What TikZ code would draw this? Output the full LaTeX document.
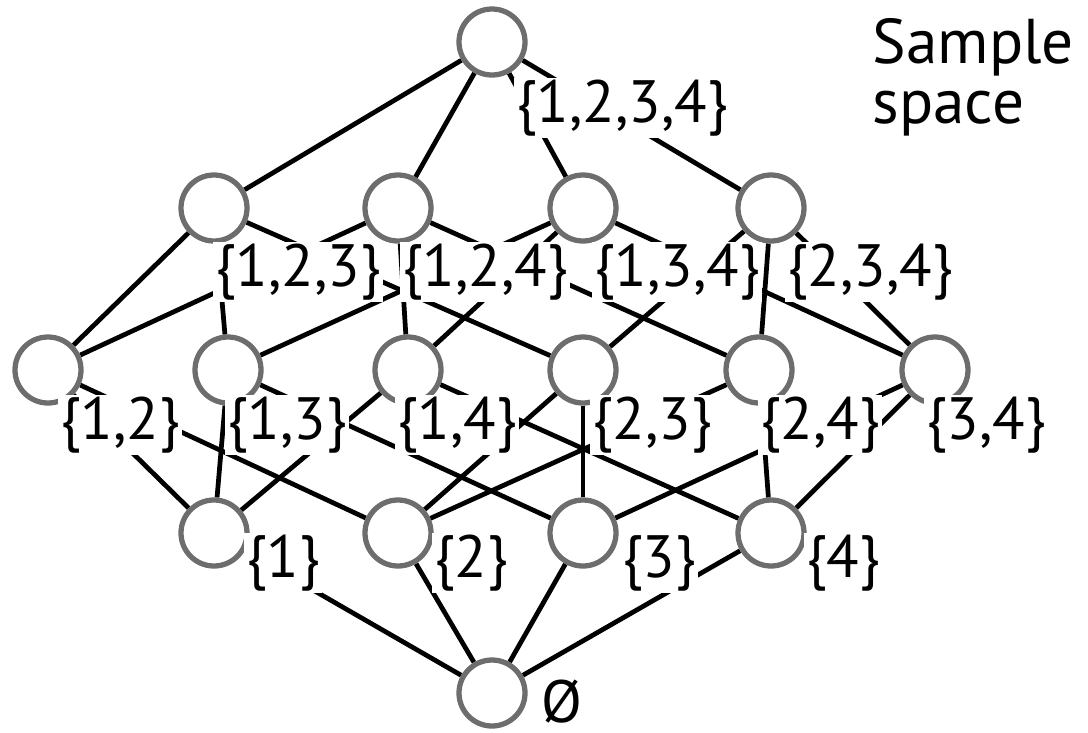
\documentclass[tikz,border=0pt]{standalone}
\usepackage{fontspec}
\setmainfont{PT Sans}
\usetikzlibrary{positioning}
\definecolor{ringgray}{HTML}{6D6D6D}
\pgfdeclarelayer{edges}
\pgfsetlayers{edges,main}

\begin{document}
\begin{tikzpicture}[
    elem/.style={circle, draw=ringgray, line width=1.5pt, fill=white, minimum size=0.66cm, inner sep=0pt},
    lbl/.style={fill=white, inner sep=0.5pt, font=\fontsize{17}{19}\selectfont},
    link/.style={line width=1.35pt, black}
  ]
    \useasboundingbox (0,0) rectangle (10.88,7.32);
    % Full set
    \node[elem] (n1234) at (4.92,6.90) {};
    % Three-element subsets
    \node[elem] (n123) at (2.14,5.24) {};
    \node[elem] (n124) at (3.98,5.24) {};
    \node[elem] (n134) at (5.83,5.24) {};
    \node[elem] (n234) at (7.71,5.24) {};
    % Two-element subsets
    \node[elem] (n12) at (0.48,3.62) {};
    \node[elem] (n13) at (2.28,3.62) {};
    \node[elem] (n14) at (4.08,3.62) {};
    \node[elem] (n23) at (5.83,3.62) {};
    \node[elem] (n24) at (7.59,3.62) {};
    \node[elem] (n34) at (9.35,3.62) {};
    % Singletons
    \node[elem] (n1) at (2.14,1.99) {};
    \node[elem] (n2) at (3.98,1.99) {};
    \node[elem] (n3) at (5.83,1.99) {};
    \node[elem] (n4) at (7.71,1.99) {};
    % Empty set
    \node[elem] (n0) at (4.92,0.39) {};
    % Inclusion lines
    \begin{pgfonlayer}{edges}
      \foreach \s in {n123, n124, n134, n234}
        \draw[link] (n1234) -- (\s);
      \foreach \a/\b in {n123/n12, n123/n13, n123/n23, n124/n12, n124/n14, n124/n24,
                         n134/n13, n134/n14, n134/n34, n234/n23, n234/n24, n234/n34}
        \draw[link] (\a) -- (\b);
      \foreach \a/\b in {n12/n1, n12/n2, n13/n1, n13/n3, n14/n1, n14/n4,
                         n23/n2, n23/n3, n24/n2, n24/n4, n34/n3, n34/n4}
        \draw[link] (\a) -- (\b);
      \foreach \s in {n1, n2, n3, n4}
        \draw[link] (\s) -- (n0);
    \end{pgfonlayer}
    % Labels
    \node[lbl] (l1234) at (6.22,6.24) {\{1,2,3,4\}};
    \node[lbl] (l123) at (2.98,4.60) {\{1,2,3\}};
    \node[lbl] (l124) at (4.85,4.60) {\{1,2,4\}};
    \node[lbl] (l134) at (6.77,4.60) {\{1,3,4\}};
    \node[lbl] (l234) at (8.70,4.60) {\{2,3,4\}};
    \node[lbl] (l12) at (1.20,3.07) {\{1,2\}};
    \node[lbl] (l13) at (2.87,3.07) {\{1,3\}};
    \node[lbl] (l14) at (4.57,3.07) {\{1,4\}};
    \node[lbl] (l23) at (6.52,3.07) {\{2,3\}};
    \node[lbl] (l24) at (8.20,3.07) {\{2,4\}};
    \node[lbl] (l34) at (9.86,3.07) {\{3,4\}};
    \node[lbl] (l1) at (2.83,1.69) {\{1\}};
    \node[lbl] (l2) at (4.71,1.69) {\{2\}};
    \node[lbl] (l3) at (6.59,1.69) {\{3\}};
    \node[lbl] (l4) at (8.43,1.69) {\{4\}};
    \node[lbl, anchor=south] (l0) at (5.62,0.06) {Ø};
    \node[anchor=north west, align=left, inner sep=0pt, font=\fontsize{18}{17}\selectfont] (title) at (8.72,7.14) {Sample\\space};
\end{tikzpicture}
\end{document}
